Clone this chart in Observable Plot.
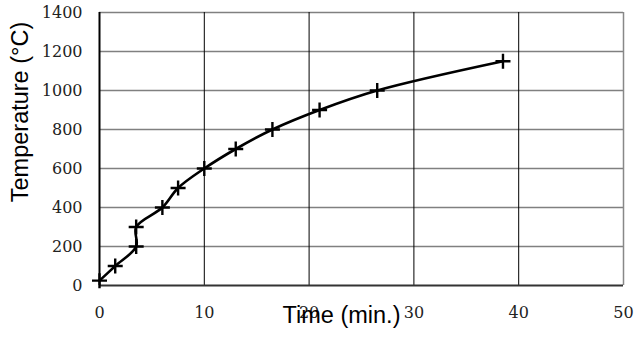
<!DOCTYPE html>
<html>
<head>
<meta charset="utf-8">
<script src="https://cdn.jsdelivr.net/npm/d3@7"></script>
<script src="https://cdn.jsdelivr.net/npm/@observablehq/plot@0.6"></script>
<style>
  html, body { margin: 0; padding: 0; background: #fff; }
</style>
</head>
<body>
<div id="chart"></div>
<script>
const timeMin = [0, 1.5, 3.5, 3.5, 6, 7.5, 10, 13, 16.5, 21, 26.5, 38.5];
const temperatureC = [25, 100, 200, 300, 400, 500, 600, 700, 800, 900, 1000, 1150];
const xTicks = [0, 10, 20, 30, 40, 50];
const yTicks = [0, 200, 400, 600, 800, 1000, 1200, 1400];
const xTitle = "Time (min.)";
const yTitle = "Temperature (°C)";

const data = timeMin.map((t, i) => ({t, temp: temperatureC[i]}));

const crossSymbol = {
  draw(context, size) {
    const r = Math.sqrt(size / Math.PI);
    context.moveTo(-r, 0); context.lineTo(r, 0);
    context.moveTo(0, -r); context.lineTo(0, r);
  }
};

const serif = "'DejaVu Serif', 'Liberation Serif', serif";

const chart = Plot.plot({
  width: 637,
  height: 337,
  marginLeft: 99,
  marginRight: 14,
  marginTop: 12,
  marginBottom: 52,
  style: {background: "#fff", overflow: "visible"},
  x: {domain: [0, 50], axis: null},
  y: {domain: [0, 1400], axis: null},
  marks: [
    Plot.ruleY(yTicks.slice(1), {stroke: "#808080", strokeWidth: 1.5}),
    Plot.ruleX(xTicks.slice(1, -1), {stroke: "#000", strokeWidth: 1}),
    Plot.ruleX([50], {stroke: "#888", strokeWidth: 1.5}),
    Plot.ruleY([0], {stroke: "#333", strokeWidth: 2}),
    Plot.ruleX([0], {stroke: "#000", strokeWidth: 2}),
    Plot.text(xTicks, {x: d => d, frameAnchor: "bottom", text: d => String(d), dy: 32, fontSize: 16, fontFamily: serif, fill: "#222"}),
    Plot.text(yTicks, {y: d => d, frameAnchor: "left", textAnchor: "end", text: d => String(d), dx: -17, fontSize: 16, fontFamily: serif, fill: "#222"}),
    Plot.line(data, {x: "t", y: "temp", curve: "catmull-rom", stroke: "#000", strokeWidth: 2.6}),
    Plot.dot(data, {x: "t", y: "temp", symbol: crossSymbol, r: 7.5, stroke: "#000", strokeWidth: 2.4, fill: "none"}),
    Plot.text([xTitle], {frameAnchor: "bottom", text: d => d, textAnchor: "middle", dx: -20, dy: 37, fontSize: 23.5, fontFamily: "Liberation Sans", fill: "#000"}),
    Plot.text([yTitle], {frameAnchor: "left", text: d => d, textAnchor: "middle", rotate: -90, dx: -79, dy: -37, fontSize: 23.5, fontFamily: "Liberation Sans", fill: "#000"})
  ]
});
document.getElementById("chart").appendChild(chart);
</script>
</body>
</html>
